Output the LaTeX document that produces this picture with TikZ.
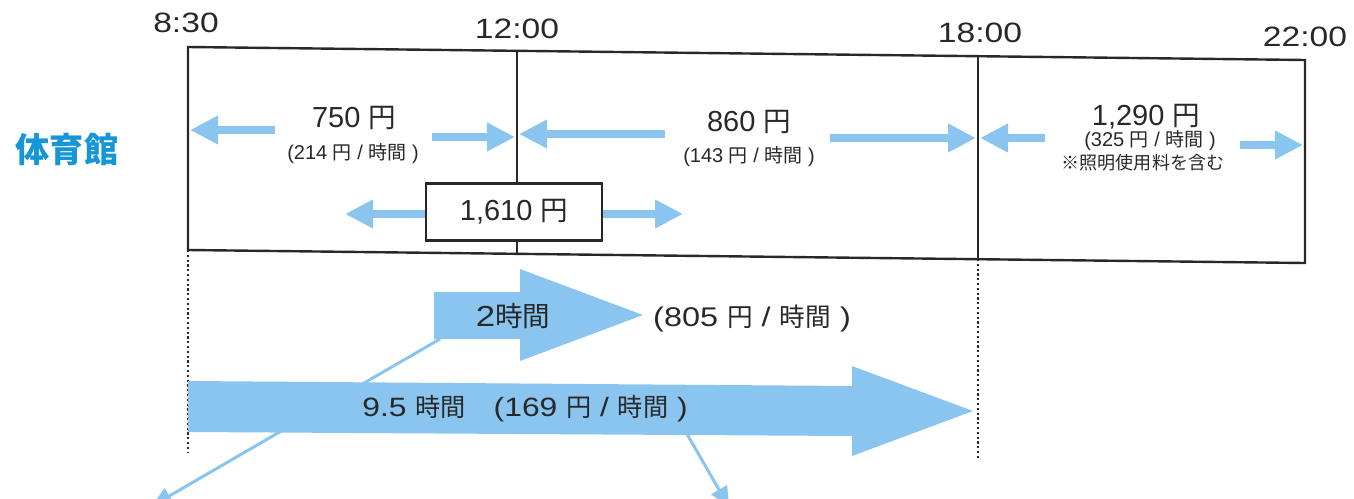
\documentclass[tikz,border=0pt]{standalone}
\usepackage{fontspec}
\setmainfont{Liberation Sans}
\newfontfamily\wide{Liberation Sans}[FakeStretch=1.2]
\newfontfamily\jp{Noto Sans CJK JP}[Scale=0.95]
\usetikzlibrary{arrows.meta}
\definecolor{arrowblue}{RGB}{138,197,240}
\definecolor{titleblue}{RGB}{22,150,215}
\definecolor{ink}{RGB}{40,40,40}
\tikzset{
  frame/.style={draw=ink, line width=2.4pt, line join=miter},
  guide/.style={draw=ink, line width=1.4pt, dash pattern=on 2.2pt off 2.6pt},
  cellarrow/.style={draw=arrowblue, line width=8pt, -{Triangle[width=27pt,length=28pt]}},
  pointer/.style={draw=arrowblue, line width=3pt, -{Triangle[width=18pt,length=20pt]}},
  bigarrow/.style={fill=arrowblue},
  timelab/.style={text=ink, font=\wide\fontsize{28}{32}\selectfont, inner sep=0pt},
  title/.style={text=titleblue, font=\jp\bfseries\fontsize{36}{42}\selectfont, inner sep=0pt},
  price/.style={text=ink, font=\fontsize{29}{33}\selectfont, inner sep=0pt},
  rate/.style={text=ink, font=\fontsize{20}{24}\selectfont, inner sep=0pt},
  note/.style={text=ink, font=\fontsize{19}{23}\selectfont, inner sep=0pt},
  pricebox/.style={draw=ink, line width=2.4pt, fill=white, text=ink,
    minimum width=176pt, minimum height=57pt, inner sep=0pt, font=\fontsize{29}{33}\selectfont},
  arrowtext/.style={text=ink, font=\wide\fontsize{27}{31}\selectfont, inner sep=0pt},
  longtext/.style={text=ink, font=\wide\fontsize{26.5}{31}\selectfont, inner sep=0pt},
  shorttext/.style={text=ink, font=\wide\fontsize{29}{33}\selectfont, inner sep=0pt}
}
\begin{document}
\begin{tikzpicture}[x=1pt,y=-1pt]
\useasboundingbox (0,0) rectangle (1354,498);
\clip (0,0) rectangle (1354,498);

% frame corners
\coordinate (TL) at (188,47);
\coordinate (T12) at (517,51);
\coordinate (T18) at (978,56);
\coordinate (TR) at (1305,60);
\coordinate (BL) at (188,250);
\coordinate (B12) at (517,254);
\coordinate (B18) at (978,259);
\coordinate (BR) at (1305,263);
\coordinate (DL) at (188,452);
\coordinate (DR) at (978,460);

% dotted guides
\draw[guide] (BL) -- (DL);
\draw[guide] (B18) -- (DR);

% frame
\draw[frame] (TL) -- (TR) -- (BR) -- (BL) -- cycle;
\draw[frame] (T12) -- (B12);
\draw[frame] (T18) -- (B18);

% time labels
\node[timelab] (t830) at (186,23) {8:30};
\node[timelab] (t1200) at (517,29) {12:00};
\node[timelab] (t1800) at (980,33) {18:00};
\node[timelab] (t2200) at (1305,37) {22:00};

% title
\node[title] (gym) at (67,150) {体育館};

% cell texts
\node[price] (p750) at (354,118) {750 {\jp 円}};
\node[rate] (r750) at (353,154) {(214 {\jp 円} / {\jp 時間} )};
\node[price] (p860) at (749,122) {860 {\jp 円}};
\node[rate] (r860) at (749,157) {(143 {\jp 円} / {\jp 時間} )};
\node[price] (p1290) at (1146,117) {1,290 {\jp 円}};
\node[rate] (r1290) at (1150,141) {(325 {\jp 円} / {\jp 時間} )};
\node[note] (n1290) at (1143,163) {\jp ※照明使用料を含む};

% cell arrows
\coordinate (a1s) at (275,130); \coordinate (a1e) at (190,130);
\coordinate (a2s) at (432,137); \coordinate (a2e) at (515,137);
\coordinate (a3s) at (665,134); \coordinate (a3e) at (519,134);
\coordinate (a4s) at (830,138); \coordinate (a4e) at (976,138);
\coordinate (a5s) at (1045,138); \coordinate (a5e) at (980,138);
\coordinate (a6s) at (1240,145); \coordinate (a6e) at (1303,145);
\draw[cellarrow] (a1s) -- (a1e);
\draw[cellarrow] (a2s) -- (a2e);
\draw[cellarrow] (a3s) -- (a3e);
\draw[cellarrow] (a4s) -- (a4e);
\draw[cellarrow] (a5s) -- (a5e);
\draw[cellarrow] (a6s) -- (a6e);

% 1,610 box
\node[pricebox] (p1610) at (514,212) {1,610 {\jp 円}};
\coordinate (b1e) at (345,214);
\coordinate (b2e) at (683,214);
\draw[cellarrow] (p1610.west |- b1e) -- (b1e);
\draw[cellarrow] (p1610.east |- b2e) -- (b2e);

% pointer lines (behind the big arrows)
\coordinate (q1s) at (440,339);
\coordinate (q1e) at (152,506);
\coordinate (q2s) at (687,434);
\coordinate (q2e) at (729,507);
\draw[pointer] (q1s) -- (q1e);
\draw[pointer] (q2s) -- (q2e);

% 2-hour arrow
\fill[bigarrow] (434,292) -- (520,292) -- (520,269) -- (643,315) -- (520,361) -- (520,339) -- (434,339) -- cycle;
\node[shorttext] (two) at (513,316) {2{\jp 時間}};
\node[arrowtext] (r805) at (752,319) {(805 {\jp 円} / {\jp 時間} )};

% 9.5-hour arrow
\fill[bigarrow] (188,381) -- (852,386) -- (852,366) -- (973,411) -- (852,456) -- (852,436) -- (188,432) -- cycle;
\node[longtext] (nine) at (525,409) {9.5 {\jp 時間}\hspace{28pt}(169 {\jp 円} / {\jp 時間} )};
\end{tikzpicture}
\end{document}
